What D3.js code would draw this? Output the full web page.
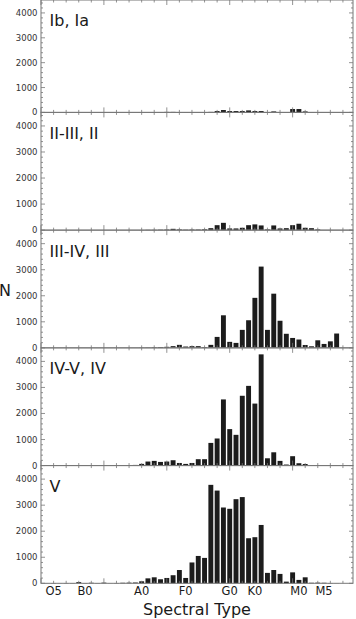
<!DOCTYPE html>
<html>
<head>
<meta charset="utf-8">
<script src="https://cdn.jsdelivr.net/npm/d3@7"></script>
<style>
  body { margin: 0; background: #fff; }
  svg { display: block; font-family: "DejaVu Sans", sans-serif; }
</style>
</head>
<body>
<svg id="chart" width="356" height="619"></svg>
<script>
// one bin per spectral subtype present in the catalogue
const bins = d3.range(50);

const lumIbIa = [0,0,0,0,0,0,0,0,0,0, 0,0,0,0,0,0,0,0,10,15,
  20,20,10,10,10,15,15,20,55,95, 55,55,55,80,55,55,15,40,15,15,
  135,135,40,15,0,0,0,0,0,0];
const lumII = [0,0,0,0,0,0,0,0,0,0, 0,0,0,0,0,0,5,10,10,15,
  20,50,25,15,20,20,30,75,190,280, 65,65,90,190,220,180,25,180,65,75,
  190,245,90,75,25,0,0,0,0,0];
const lumIII = [0,0,0,0,0,0,0,0,0,0, 0,0,0,0,0,0,5,10,20,30,
  40,65,115,50,65,65,30,115,420,1250, 230,190,690,1060,1920,3120,690,2080,1040,540,
  380,320,110,60,290,150,250,550,0,0];
const lumIV = [0,0,0,0,0,0,0,0,0,0, 0,0,0,0,10,25,65,155,180,140,
  155,205,100,64,100,245,245,870,1040,2540, 1400,1180,2680,3060,2380,4270,280,510,180,40,
  360,90,60,15,15,10,10,5,0,0];
const lumV = [0,5,10,5,10,10,45,10,20,10, 25,5,10,20,25,30,77,190,230,155,
  205,310,510,205,800,1050,975,3780,3560,2910, 2860,3230,3310,1730,1770,2240,400,510,360,64,
  420,130,230,20,25,20,10,5,0,0];

const panelNames = ['Ib, Ia', 'II-III, II', 'III-IV, III', 'IV-V, IV', 'V'];
const panelSeries = [lumIbIa, lumII, lumIII, lumIV, lumV];

const typeLabels = ['O5', 'B0', 'A0', 'F0', 'G0', 'K0', 'M0', 'M5'];
const typeBins = [2, 7, 16, 23, 30, 34, 41, 45];
const yTickValues = [0, 1000, 2000, 3000, 4000];

const left = 41, right = 353;
const firstBottom = 112.4, plotBottom = 583.3;
const panelH = (plotBottom - firstBottom) / 4;
const frameColor = '#777';

const svg = d3.select('#chart');

const x = d3.scaleLinear().domain([0, 49.6]).range([left, right]);
const barW = x(0.78) - x(0);

panelSeries.forEach((values, p) => {
  const bottom = firstBottom + p * panelH;
  const top = p === 0 ? 0 : bottom - panelH;
  const y = d3.scaleLinear().domain([0, 4520]).range([bottom, top]);
  const g = svg.append('g');

  g.selectAll('rect.bar')
    .data(bins)
    .join('rect')
    .attr('class', 'bar')
    .attr('x', (i) => x(i) - barW / 2)
    .attr('width', barW)
    .attr('y', (i) => y(values[i]))
    .attr('height', (i) => bottom - y(values[i]))
    .attr('fill', '#1c1c1c');

  // y ticks, inward on both sides
  d3.range(0, 4520, 200).forEach((v) => {
    const len = v % 1000 === 0 ? 4 : 2;
    g.append('line')
      .attr('x1', left).attr('x2', left + len)
      .attr('y1', y(v)).attr('y2', y(v))
      .attr('stroke', frameColor).attr('stroke-width', 0.8);
    g.append('line')
      .attr('x1', right - len).attr('x2', right)
      .attr('y1', y(v)).attr('y2', y(v))
      .attr('stroke', frameColor).attr('stroke-width', 0.8);
  });

  // x ticks, inward at top and bottom
  d3.range(0, 50, 2).forEach((t) => {
    const len = t % 10 === 0 ? 5 : 2.5;
    g.append('line')
      .attr('x1', x(t)).attr('x2', x(t))
      .attr('y1', bottom).attr('y2', bottom - len)
      .attr('stroke', frameColor).attr('stroke-width', 0.8);
    g.append('line')
      .attr('x1', x(t)).attr('x2', x(t))
      .attr('y1', top).attr('y2', top + len)
      .attr('stroke', frameColor).attr('stroke-width', 0.8);
  });

  g.append('rect')
    .attr('x', left).attr('y', top)
    .attr('width', right - left).attr('height', bottom - top)
    .attr('fill', 'none')
    .attr('stroke', frameColor)
    .attr('stroke-width', 1);

  g.selectAll('text.ytick')
    .data(yTickValues)
    .join('text')
    .attr('class', 'ytick')
    .attr('x', left - 3.5)
    .attr('y', (v) => y(v))
    .attr('dy', '0.35em')
    .attr('text-anchor', 'end')
    .attr('font-size', 8.5)
    .attr('fill', '#333')
    .text((v) => v);

  g.append('text')
    .attr('x', 49.5)
    .attr('y', top + 26.5 - (p === 0 ? 1 : 0))
    .attr('font-size', 16)
    .attr('fill', '#1a1a1a')
    .text(panelNames[p]);
});

svg.selectAll('text.xtick')
  .data(typeLabels)
  .join('text')
  .attr('class', 'xtick')
  .attr('x', (d, i) => x(typeBins[i]))
  .attr('y', 595)
  .attr('text-anchor', 'middle')
  .attr('font-size', 11.5)
  .attr('fill', '#1a1a1a')
  .text((d) => d);

svg.append('text')
  .attr('x', (left + right) / 2)
  .attr('y', 615)
  .attr('text-anchor', 'middle')
  .attr('font-size', 16)
  .attr('fill', '#1a1a1a')
  .text('Spectral Type');

svg.append('text')
  .attr('x', 5)
  .attr('y', 296)
  .attr('text-anchor', 'middle')
  .attr('font-size', 16)
  .attr('fill', '#1a1a1a')
  .text('N');
</script>
</body>
</html>
